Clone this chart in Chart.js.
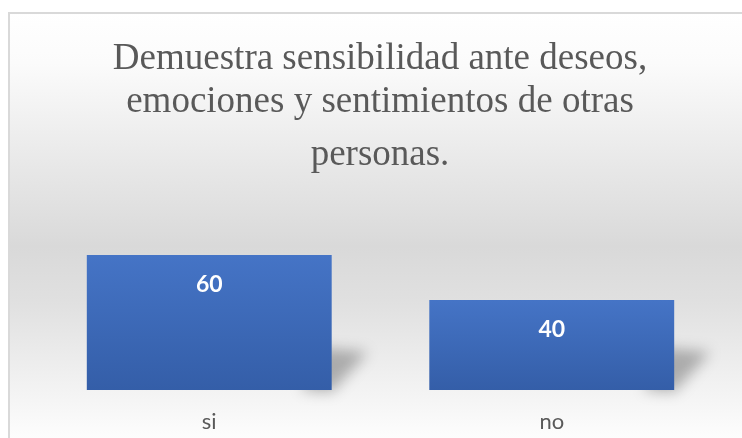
<!DOCTYPE html>
<html>
<head>
<meta charset="utf-8">
<script src="https://cdn.jsdelivr.net/npm/chart.js@4"></script>
<style>
  html, body { margin: 0; padding: 0; background: #ffffff; }
  #wrap { width: 742px; height: 438px; position: relative; }
</style>
</head>
<body>
<div id="wrap"><canvas id="chart" width="742" height="438"></canvas></div>
<script>
// chart data
const categories = ['si', 'no'];
const values = [60, 40];
const titleLines = ['Demuestra sensibilidad ante deseos,', 'emociones y sentimientos de otras', 'personas.'];

// background panel + border
const panelPlugin = {
  id: 'panel',
  beforeDraw(chart) {
    const c = chart.ctx;
    c.save();
    c.fillStyle = '#ffffff';
    c.fillRect(0, 0, chart.width, chart.height);
    const g = c.createLinearGradient(0, 12, 0, chart.height);
    g.addColorStop(0, '#ffffff');
    g.addColorStop(0.12, '#fbfbfb');
    g.addColorStop(0.55, '#d9d9d9');
    g.addColorStop(0.68, '#e0e0e0');
    g.addColorStop(1, '#fdfdfd');
    c.fillStyle = g;
    c.fillRect(9, 13, chart.width, chart.height);
    c.strokeStyle = '#d9d9d9';
    c.lineWidth = 2;
    c.beginPath();
    c.moveTo(9, chart.height + 5);
    c.lineTo(9, 13);
    c.lineTo(chart.width + 5, 13);
    c.stroke();
    c.restore();
  }
};

// title drawn as three lines
const titlePlugin = {
  id: 'titleLines',
  afterDraw(chart) {
    const c = chart.ctx;
    const baselines = [69, 112, 165];
    c.save();
    c.fillStyle = '#595959';
    c.font = '37px "Liberation Serif", "Times New Roman", serif';
    c.textAlign = 'center';
    c.textBaseline = 'alphabetic';
    titleLines.forEach((t, i) => c.fillText(t, 380, baselines[i]));
    c.restore();
  }
};

// soft shadow behind bars, value labels inside bars
const barExtras = {
  id: 'barExtras',
  beforeDatasetsDraw(chart) {
    const c = chart.ctx;
    const meta = chart.getDatasetMeta(0);
    c.save();
    c.filter = 'blur(7px)';
    c.fillStyle = 'rgba(0,0,0,0.28)';
    meta.data.forEach(bar => {
      const right = bar.x + bar.width / 2;
      c.beginPath();
      c.moveTo(right - 30, bar.base);
      c.lineTo(right, bar.base + 2);
      c.lineTo(right + 36, bar.base - 38);
      c.lineTo(right - 10, bar.base - 42);
      c.closePath();
      c.fill();
    });
    c.restore();
  },
  afterDatasetsDraw(chart) {
    const c = chart.ctx;
    const meta = chart.getDatasetMeta(0);
    c.save();
    c.fillStyle = '#ffffff';
    c.font = 'bold 23px Lato, "Open Sans", sans-serif';
    c.textAlign = 'center';
    c.textBaseline = 'middle';
    meta.data.forEach((bar, i) => {
      c.fillText(String(values[i]), bar.x, bar.y + 30);
    });
    c.restore();
  }
};

new Chart(document.getElementById('chart'), {
  type: 'bar',
  data: {
    labels: categories,
    datasets: [{
      data: values,
      backgroundColor: ctx => {
        const chart = ctx.chart;
        const ys = chart.scales.y;
        if (!ys || !chart.chartArea) return '#4472c4';
        const top = ys.getPixelForValue(ctx.raw);
        const base = ys.getPixelForValue(0);
        const g = chart.ctx.createLinearGradient(0, top, 0, base);
        g.addColorStop(0, '#4574c6');
        g.addColorStop(1, '#345ea8');
        return g;
      },
      borderWidth: 0,
      barPercentage: 0.715,
      categoryPercentage: 1
    }]
  },
  options: {
    responsive: false,
    animation: false,
    layout: { padding: { top: 255, left: 38, right: 19, bottom: 5 } },
    plugins: {
      legend: { display: false },
      tooltip: { enabled: false },
      title: { display: false }
    },
    scales: {
      x: {
        grid: { display: false },
        border: { display: false },
        afterFit: scale => { scale.height = 43; },
        ticks: {
          color: '#595959',
          padding: 11,
          maxRotation: 0,
          font: { family: 'Lato, "Open Sans", sans-serif', size: 22 }
        }
      },
      y: { display: false, min: 0, max: 60 }
    }
  },
  plugins: [panelPlugin, titlePlugin, barExtras]
});
</script>
</body>
</html>
